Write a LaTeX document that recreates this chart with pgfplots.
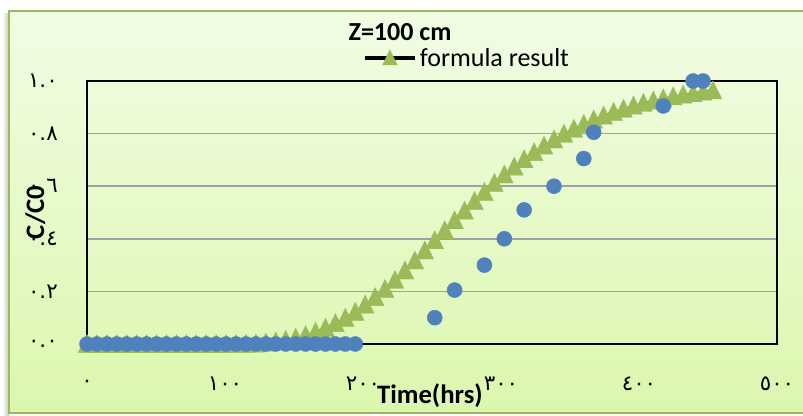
\documentclass[border=0pt]{standalone}
\usepackage{pgfplots}
\pgfplotsset{compat=1.18}
\usepackage{fontspec}
\setmainfont{Carlito}
\newfontfamily\arabicfont[Script=Arabic]{DejaVu Sans}
\definecolor{bgtop}{HTML}{F1FCE4}
\definecolor{bgbot}{HTML}{DBF7AE}
\definecolor{brd}{HTML}{9BBB59}
\definecolor{tri}{HTML}{9BBB59}
\definecolor{dot}{HTML}{4F81BD}
\definecolor{grd}{HTML}{A0A0A0}
\begin{document}
\begin{tikzpicture}
\useasboundingbox (0,0) rectangle (602.25pt,312pt);
\begin{scope}[x=0.75pt,y=-0.75pt,yshift=312pt]
  \shade[left color=white,right color=gray!45] (2,14) rectangle (9,416);
  \shade[top color=bgtop,bottom color=bgbot] (9,11) rectangle (812,413);
  \draw[brd,line width=2.2pt] (9,11) rectangle (812,413);
  \node[font=\bfseries\fontsize{19.5}{22}\selectfont,inner sep=0pt] at (400,32) {Z=100 cm};
\end{scope}
\begin{axis}[
  at={(65.25pt,54pt)}, anchor=south west,
  scale only axis, width=517.5pt, height=197.25pt,
  xmin=0, xmax=500, ymin=0, ymax=1,
  clip=false,
  axis line style={black,line width=1.6pt},
  ymajorgrids, grid style={grd,line width=1.1pt},
  major tick length=0pt,
  xtick={0,100,200,300,400,500},
  xticklabels={٠,١٠٠,٢٠٠,٣٠٠,٤٠٠,٥٠٠},
  ytick={0,0.2,0.4,0.6,0.8,1},
  yticklabels={٠.٠,٠.٢,٠.٤,٠.٦,٠.٨,١.٠},
  xticklabel style={font=\arabicfont\fontsize{16}{18}\selectfont,anchor=center,inner sep=0pt,yshift=-30pt},
  yticklabel style={font=\arabicfont\fontsize{16}{18}\selectfont,anchor=east,inner sep=0pt,xshift=-21.75pt},
  xlabel={Time(hrs)},
  xlabel style={at={(axis description cs:0.497,-0.198)},anchor=center,font=\bfseries\fontsize{20}{22}\selectfont},
  ylabel={C/C0},
  ylabel style={at={(axis description cs:-0.075,0.5)},anchor=center,font=\bfseries\fontsize{20}{22}\selectfont},
  legend style={at={(axis description cs:0.399,1.0875)},anchor=west,draw=none,fill=none,inner sep=0pt,
    font=\fontsize{19.5}{22}\selectfont},
  legend cell align=left,
  legend image code/.code={\draw[#1,mark repeat=2,mark phase=2,black,line width=3pt,
     mark options={draw=tri,fill=tri,line width=0.3pt,mark size=7.5pt,xscale=0.85,yshift=-1.5pt}]
     plot coordinates {(0pt,0pt) (19pt,0pt) (38pt,0pt)};},
]
\addplot[black,line width=0.6pt,mark=triangle*,mark size=9pt,
  mark options={draw=tri,fill=tri,line width=0.3pt,xscale=0.85,yshift=-2pt}] table {
0 0
7.2 0
14.4 0
21.6 0
28.8 0
36 0
43.2 0
50.4 0
57.6 0
64.8 0
72 0
79.2 0
86.4 0
93.6 0
100.8 0
108 0.0005
115.2 0.001
122.4 0.002
129.6 0.006
136.8 0.010
144 0.016
151.2 0.024
158.4 0.034
165.6 0.047
172.8 0.062
180 0.080
187.2 0.100
194.4 0.123
201.6 0.150
208.8 0.179
216 0.210
223.2 0.244
230.4 0.280
237.6 0.318
244.8 0.356
252 0.395
259.2 0.433
266.4 0.471
273.6 0.508
280.8 0.544
288 0.579
295.2 0.613
302.4 0.645
309.6 0.675
316.8 0.703
324 0.730
331.2 0.755
338.4 0.778
345.6 0.800
352.8 0.819
360 0.837
367.2 0.854
374.4 0.869
381.6 0.883
388.8 0.895
396 0.907
403.2 0.917
410.4 0.926
417.6 0.934
424.8 0.942
432 0.949
439.2 0.954
446.4 0.960
453.6 0.965
};
\addlegendentry{formula result}
\addplot[only marks,mark=*,mark size=5.6pt,mark options={draw=dot,fill=dot},forget plot] table {
0 0
7.2 0
14.4 0
21.6 0
28.8 0
36 0
43.2 0
50.4 0
57.6 0
64.8 0
72 0
79.2 0
86.4 0
93.6 0
100.8 0
108 0
115.2 0
122.4 0
129.6 0
136.8 0
144 0
151.2 0
158.4 0
165.6 0
172.8 0
180 0
187.2 0
194.4 0
252 0.10
266.4 0.205
288 0.30
302.4 0.40
316.8 0.51
338.4 0.60
360 0.705
367.2 0.805
417.6 0.905
439.2 1.0
446.4 1.0
};
\end{axis}
\end{tikzpicture}
\end{document}
